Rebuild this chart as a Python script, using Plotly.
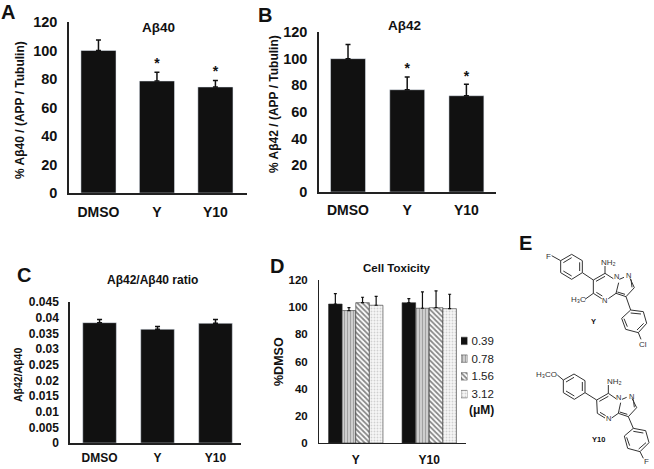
import plotly.graph_objects as go

W, H = 654, 469
INK = "#111111"
FONT = "Liberation Sans, Arial, sans-serif"

# Panels A-C
categories = ["DMSO", "Y", "Y10"]
abeta40 = [100, 78.6, 74.4]
abeta40_top = [107.4, 84.7, 79]
abeta40_stars = [None, 90.5, 84.4]
abeta42 = [100, 76.7, 72.2]
abeta42_top = [110.7, 86.3, 80.8]
abeta42_stars = [None, 92, 86]
ratio = [0.0384, 0.0363, 0.0382]
ratio_top = [0.0394, 0.0372, 0.0394]
percent_ticks = [0, 20, 40, 60, 80, 100, 120]
ratio_ticks = [0, 0.005, 0.01, 0.015, 0.02, 0.025, 0.03, 0.035, 0.04, 0.045]
ratio_labels = ["0", "0.005", "0.01", "0.015", "0.02", "0.025", "0.03", "0.035", "0.04", "0.045"]

# Panel D
compounds = ["Y", "Y10"]
doses = ["0.39", "0.78", "1.56", "3.12"]
tox = {"0.39": [102.3, 103.3], "0.78": [97.5, 99.2], "1.56": [103.3, 99.6], "3.12": [101.4, 98.9]}
tox_top = {"0.39": [110, 106.3], "0.78": [99.6, 111.2], "1.56": [107.3, 112], "3.12": [108, 109.5]}


def dom_x(a, b):
    return [a / W, b / W]


def dom_y(top, bottom):
    return [1 - bottom / H, 1 - top / H]


fig = go.Figure()


def axis_style(size):
    return dict(showgrid=False, zeroline=False, showline=True, linecolor="#222", linewidth=1.5, automargin=False,
                ticks="", tickfont=dict(family=FONT, size=size, color=INK, weight="bold"))


def bar_panel(n, values, tops, stars, dx, dy, xr, width, ymax, tickvals, ticktext, ysize, xsize, ystand, xstand):
    xa, ya = f"x{n}", f"y{n}"
    fig.add_trace(go.Bar(x=categories, y=values, width=width, xaxis=xa, yaxis=ya, marker_color=INK, showlegend=False,
                         error_y=dict(type="data", symmetric=False, array=[t - v for t, v in zip(tops, values)],
                                      arrayminus=[0, 0, 0], color=INK, thickness=1.5, width=2.5)))
    if stars:
        star_pairs = [(c, s) for c, s in zip(categories, stars) if s is not None]
        fig.add_trace(go.Scatter(x=[p[0] for p in star_pairs], y=[p[1] for p in star_pairs], mode="text",
                                 text=["*"] * len(star_pairs),
                                 xaxis=xa, yaxis=ya, showlegend=False, textposition="middle center",
                                 textfont=dict(family=FONT, size=14, color=INK, weight="bold")))
    fig.update_layout({
        f"xaxis{n}": dict(domain=dom_x(*dx), anchor=ya, range=xr, type="category", categoryorder="array",
                          categoryarray=categories, ticklabelstandoff=xstand, **axis_style(xsize)),
        f"yaxis{n}": dict(domain=dom_y(*dy), anchor=xa, range=[0, ymax], tickvals=tickvals, ticktext=ticktext,
                          ticklabelstandoff=ystand, **axis_style(ysize)),
    })


bar_panel(1, abeta40, abeta40_top, abeta40_stars, (69, 247), (22, 193), [-0.504, 2.54], 0.6, 120,
          percent_ticks, [str(t) for t in percent_ticks], 14.5, 14, 7, 5)
bar_panel(2, abeta42, abeta42_top, abeta42_stars, (319, 496), (32, 192), [-0.49, 2.5], 0.59, 120,
          percent_ticks, [str(t) for t in percent_ticks], 14.5, 14, 7, 4)
bar_panel(3, ratio, ratio_top, None, (70, 241), (302, 443), [-0.51, 2.44], 0.58, 0.045,
          ratio_ticks, ratio_labels, 12, 12, 7, 3)

# Panel D bars
styles = {
    "0.39": dict(color=INK),
    "0.78": dict(color="#dddddd", pattern=dict(shape="|", fgcolor="#666", bgcolor="#dddddd", size=3, solidity=0.5)),
    "1.56": dict(color="white", pattern=dict(shape="\\", fgcolor="#111", bgcolor="white", size=3.6, solidity=0.5)),
    "3.12": dict(color="#f4f4f4", pattern=dict(shape=".", fgcolor="#aaa", bgcolor="#f7f7f7", size=3, solidity=0.3)),
}
for d in doses:
    fig.add_trace(go.Bar(x=compounds, y=tox[d], name=d, xaxis="x4", yaxis="y4", showlegend=False,
                         marker=dict(line=dict(color="#333", width=0.6), **styles[d]),
                         error_y=dict(type="data", symmetric=False, array=[t - v for t, v in zip(tox_top[d], tox[d])],
                                      arrayminus=[0, 0], color=INK, thickness=1.2, width=1.5)))
fig.update_layout(
    barmode="group", bargap=0.26, bargroupgap=0,
    xaxis4=dict(domain=dom_x(319, 466), anchor="y4", range=[-0.5, 1.5], type="category", ticklabelstandoff=5, **axis_style(12)),
    yaxis4=dict(domain=dom_y(280, 443), anchor="x4", range=[0, 120], tickvals=percent_ticks, ticklabelstandoff=8, **axis_style(11.5)),
)
fig.update_layout(yaxis4_linewidth=1, xaxis4_linewidth=1.2)

# Dose key: a tiny bar chart sharing the panel D fills, with the doses as its tick labels
for d in doses:
    fig.add_trace(go.Bar(y=[d], x=[1], orientation="h", width=0.42, xaxis="x5", yaxis="y5", showlegend=False,
                         marker=dict(line=dict(color="#333", width=0.5), **styles[d])))
fig.update_layout(
    xaxis5=dict(domain=dom_x(461, 467.5), anchor="y5", range=[0, 1], visible=False, automargin=False),
    yaxis5=dict(domain=dom_y(332, 403), anchor="x5", side="right", type="category", categoryorder="array",
                categoryarray=doses[::-1], showgrid=False, zeroline=False, showline=False, ticks="", automargin=False,
                ticklabelstandoff=3, tickfont=dict(family=FONT, size=11.5, color="#222")),
)

# Chemical structure sketches on a hidden overlay axis scaled to the page
Y_BONDS = [
    [(35, 47), (62, 62)], [(62, 62), (95, 43), (127, 62), (127, 98), (95, 118), (62, 98), (62, 62)],
    [(70, 68), (95, 53)], [(119, 67), (119, 93)], [(70, 93), (95, 108)],
    [(127, 98), (160, 120)], [(160, 120), (195, 100), (220, 116)], [(168, 124), (195, 109)],
    [(236, 128), (228, 160), (205, 176)], [(185, 176), (160, 160), (160, 120)], [(169, 157), (187, 168)],
    [(195, 100), (195, 78)], [(238, 118), (252, 112)], [(270, 115), (283, 143), (258, 170), (228, 160)],
    [(273, 118), (276, 142)], [(232, 156), (255, 163)], [(135, 178), (160, 160)],
    [(258, 170), (272, 210)], [(272, 210), (310, 215), (320, 250), (295, 278), (257, 268), (245, 235), (272, 210)],
    [(272, 219), (303, 222)], [(311, 250), (291, 270)], [(262, 260), (252, 236)], [(295, 278), (303, 298)],
]
Y10_BONDS = [
    [(82, 45), (100, 60)], [(100, 60), (132, 42), (165, 62), (165, 98), (133, 118), (100, 98), (100, 60)],
    [(108, 66), (132, 52)], [(157, 66), (157, 93)], [(108, 93), (133, 108)],
    [(165, 98), (200, 120)], [(200, 120), (235, 100), (258, 116)], [(208, 124), (235, 109)],
    [(272, 128), (265, 160), (245, 174)], [(225, 174), (202, 160), (200, 120)], [(210, 157), (227, 167)],
    [(235, 100), (235, 75)], [(276, 118), (290, 112)], [(306, 115), (320, 143), (295, 170), (265, 160)],
    [(310, 118), (313, 142)], [(269, 156), (292, 163)],
    [(295, 170), (310, 205)], [(310, 205), (347, 212), (357, 248), (330, 275), (293, 265), (283, 228), (310, 205)],
    [(310, 214), (340, 219)], [(348, 248), (326, 267)], [(299, 257), (290, 232)], [(330, 275), (340, 295)],
]
sx, sy = [], []
for bonds, ox, oy in ((Y_BONDS, 540, 240), (Y10_BONDS, 530, 360)):
    for seg in bonds:
        sx += [ox + p[0] / 3 for p in seg] + [None]
        sy += [oy + p[1] / 3 for p in seg] + [None]
fig.add_trace(go.Scatter(x=sx, y=sy, mode="lines", xaxis="x9", yaxis="y9", showlegend=False,
                         line=dict(color="#333", width=1)))
fig.update_layout(
    xaxis9=dict(domain=[0, 1], range=[0, W], visible=False, anchor="y9", automargin=False),
    yaxis9=dict(domain=[0, 1], range=[H, 0], visible=False, anchor="x9", automargin=False),
)


def note(x, y, text, size, bold=True, rot=0, color=INK):
    fig.add_annotation(xref="x9", yref="y9", x=x, y=y, text=f"<b>{text}</b>" if bold else text, showarrow=False,
                       textangle=rot, font=dict(family=FONT, size=size, color=color), xanchor="center", yanchor="middle")


for t in [("A", 8, 12), ("B", 265, 15), ("C", 24, 275), ("D", 277, 266), ("E", 525, 243)]:
    note(t[1], t[2], t[0], 20)
note(158, 27, "Aβ40", 13.5)
note(404, 25, "Aβ42", 13.5)
note(152, 280, "Aβ42/Aβ40 ratio", 12)
note(396, 268, "Cell Toxicity", 11.5)
note(20, 110, "% Aβ40 / (APP / Tubulin)", 12, rot=-90)
note(274, 104, "% Aβ42 / (APP / Tubulin)", 12, rot=-90)
note(18, 375, "Aβ42/Aβ40", 10.5, rot=-90)
note(279, 362, "%DMSO", 12.5, rot=-90)
note(481, 410, "(μM)", 12)
# structure labels
note(548, 256, "F", 8, False, color="#333")
note(608, 262, "NH₂", 8, False, color="#333")
note(616, 276, "N", 7.5, False, color="#333"); note(628, 275, "N", 7.5, False, color="#333")
note(604, 300, "N", 7.5, False, color="#333")
note(578, 299, "H₃C", 8, False, color="#333")
note(643, 344, "Cl", 8, False, color="#333")
note(593, 321, "Y", 7.5)
note(546, 374, "H₃CO", 8, False, color="#333")
note(614, 381, "NH₂", 8, False, color="#333")
note(618, 397, "N", 7.5, False, color="#333"); note(631, 396, "N", 7.5, False, color="#333")
note(608, 418, "N", 7.5, False, color="#333")
note(646, 461, "F", 8, False, color="#333")
note(598, 439, "Y10", 7.5)

fig.update_layout(width=W, height=H, autosize=False, margin=dict(l=0, r=0, t=0, b=0),
                  paper_bgcolor="white", plot_bgcolor="rgba(0,0,0,0)", font=dict(family=FONT))
fig.write_html("out.html", post_script="document.body.style.margin='0';", config=dict(displayModeBar=False))
